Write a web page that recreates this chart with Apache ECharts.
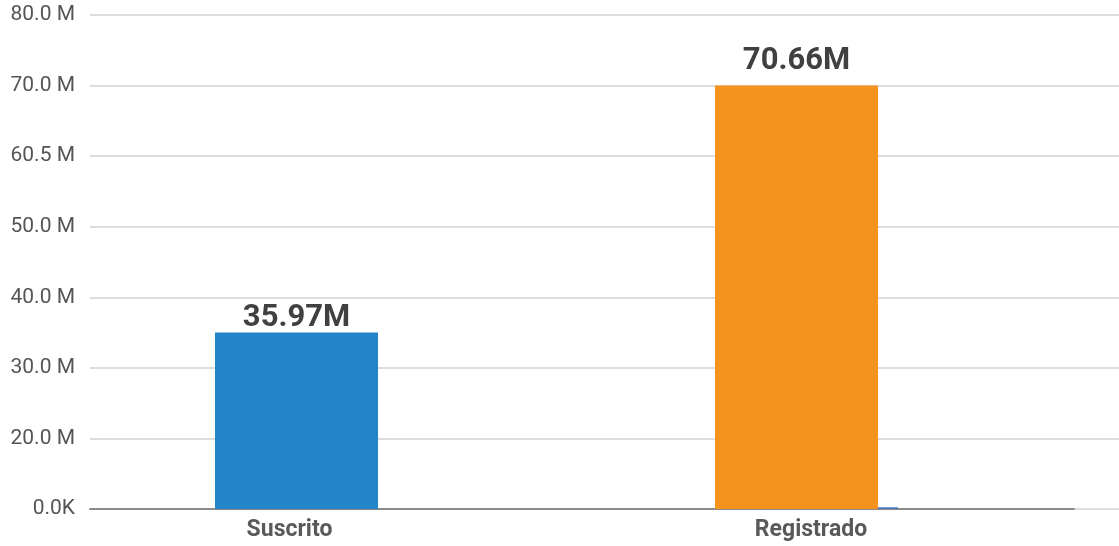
<!DOCTYPE html>
<html>
<head>
<meta charset="utf-8">
<script src="https://cdn.jsdelivr.net/npm/echarts@6/dist/echarts.min.js"></script>
<style>
  html, body { margin: 0; padding: 0; background: #fff; }
  #chart { width: 1119px; height: 546px; }
</style>
</head>
<body>
<div id="chart"></div>
<script>
    // data
    var categories = ['Suscrito', 'Registrado'];
    var totals = [35.97, 70.66];            // M, shown as bar labels
    var barHeights = [35.0, 70.0];          // M, as read against the axis
    var smallSeries = [0, 0.5];             // M, tiny bar next to Registrado
    var barColors = ['#2185c8', '#f6921e'];
    var labelGaps = [-1, 9];

    // axis ticks are evenly spaced but their values are not
    var yTickValues = [0, 20, 30, 40, 50, 60.5, 70, 80];
    var yTickLabels = ['0.0K', '20.0M', '30.0M', '40.0M', '50.0M', '60.5M', '70.0M', '80.0M'];

    function toIdx(v) {
        for (var i = 1; i < yTickValues.length; i++) {
            if (v <= yTickValues[i]) {
                var a = yTickValues[i - 1], b = yTickValues[i];
                return i - 1 + (v - a) / (b - a);
            }
        }
        return yTickValues.length - 1;
    }

    var yMax = yTickLabels.length - 1;
    var myChart = echarts.init(document.getElementById('chart'));

    var option = {
        animation: false,
        textStyle: { fontFamily: 'Roboto' },
        grid: [
            { left: 90, right: 0, top: 15, bottom: 37 },
            { left: 56.5, width: 1000, top: 15, bottom: 37 },
            { left: 90, width: 984, top: 15, bottom: 37 }
        ],
        xAxis: [
            { gridIndex: 0, type: 'category', data: [], show: false },
            {
                gridIndex: 1, type: 'category', data: categories,
                axisLine: { show: false },
                axisTick: { show: false },
                axisLabel: {
                    fontSize: 23, fontWeight: 'bold', color: '#595959', margin: 10,
                    formatter: function (v, i) { return '{c' + i + '|' + v + '}'; },
                    rich: {
                        c0: { fontSize: 23, fontWeight: 'bold', color: '#595959', padding: [0, 34, 0, 0] },
                        c1: { fontSize: 23, fontWeight: 'bold', color: '#595959', padding: [0, 0, 0, 9] }
                    }
                }
            },
            {
                gridIndex: 2, type: 'category', data: ['', ''],
                axisLine: { lineStyle: { color: '#8a8a8a', width: 2 } },
                axisTick: { show: false },
                axisLabel: { show: false }
            }
        ],
        yAxis: [
            {
                gridIndex: 0, type: 'value', min: 0, max: yMax, interval: 1,
                axisLine: { show: false },
                axisTick: { show: false },
                axisLabel: {
                    fontSize: 21, color: '#555555', margin: 15,
                    formatter: function (v) {
                        var s = yTickLabels[Math.round(v)];
                        return s.replace(/([MK])$/, function (m) { return m === 'M' ? ' M' : 'K'; });
                    }
                },
                splitLine: { lineStyle: { color: '#dcdcdc', width: 2 } }
            },
            { gridIndex: 1, type: 'value', min: 0, max: yMax, show: false },
            { gridIndex: 2, type: 'value', min: 0, max: yMax, show: false }
        ],
        series: [
            {
                type: 'bar',
                xAxisIndex: 1, yAxisIndex: 1,
                barWidth: 163,
                barGap: '0%',
                data: barHeights.map(function (v, i) {
                    return {
                        value: toIdx(v),
                        itemStyle: { color: barColors[i] },
                        label: { distance: labelGaps[i] }
                    };
                }),
                label: {
                    show: true,
                    position: 'top',
                    fontSize: 31,
                    fontWeight: 'bold',
                    color: '#404040',
                    formatter: function (p) { return totals[p.dataIndex].toFixed(2) + 'M'; }
                }
            },
            {
                type: 'bar',
                xAxisIndex: 1, yAxisIndex: 1,
                barWidth: 20,
                itemStyle: { color: '#4a78c0' },
                data: smallSeries.map(toIdx)
            }
        ]
    };
    myChart.setOption(option);
</script>
</body>
</html>
